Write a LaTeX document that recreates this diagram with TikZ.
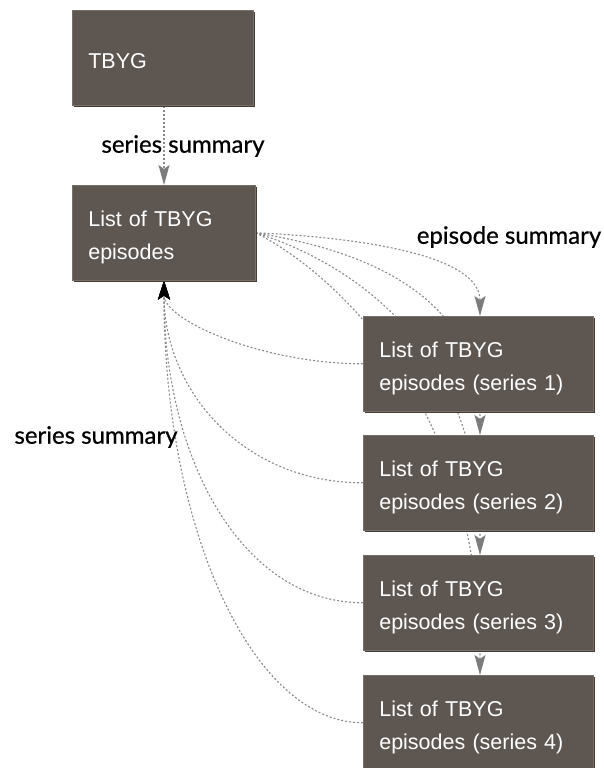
\documentclass[tikz,border=0pt]{standalone}
\usepackage{fontspec}
\setmainfont{Liberation Sans}
\newfontfamily\labelfont[FakeBold=0.6]{Lato}
\usetikzlibrary{arrows.meta,backgrounds}
\definecolor{boxfill}{HTML}{5E5650}
\definecolor{boxdark}{HTML}{463C32}
\definecolor{edgegray}{HTML}{8A8A8A}
\definecolor{tipgray}{HTML}{7C7C7C}
\newcommand\boxtext[1]{\raisebox{-4pt}[\height][\depth]{\begin{tabular}{@{}l@{}}#1\end{tabular}}}
\tikzset{
  boxnode/.style={anchor=north west, fill=boxfill, text=white,
    font=\fontsize{21.5}{33}\selectfont, align=left, inner xsep=16pt, inner ysep=0pt,
    preaction={fill=boxdark, transform canvas={shift={(2pt,-2pt)}}},
    draw=boxfill!85!white, line width=0.6pt},
  epiedge/.style={draw=edgegray, line width=1.1pt, dash pattern=on 2pt off 2pt,
    -{Stealth[length=20pt,width=11pt,inset=4pt,fill=tipgray,color=tipgray]}},
  seredge/.style={draw=edgegray, line width=1.1pt, dash pattern=on 2pt off 2pt,
    -{Stealth[length=19pt,width=12pt,inset=4pt,fill=black,color=black]}},
  edgelabel/.style={font=\labelfont\fontsize{24}{28}\selectfont, text=black, inner sep=0pt}
}
\begin{document}
\begin{tikzpicture}[x=1pt,y=-1pt]
\useasboundingbox (0,0) rectangle (604,768);
\node[boxnode, minimum width=181pt, minimum height=95pt, text width=149pt] (tbyg) at (72,10) {\boxtext{TBYG}};
\node[boxnode, minimum width=183pt, minimum height=95pt, text width=151pt] (list) at (72,185) {\boxtext{List of TBYG\\episodes}};
\node[boxnode, minimum width=230pt, minimum height=95pt, text width=198pt] (s1) at (363,316) {\boxtext{List of TBYG\\episodes (series 1)}};
\node[boxnode, minimum width=230pt, minimum height=95pt, text width=198pt] (s2) at (363,435) {\boxtext{List of TBYG\\episodes (series 2)}};
\node[boxnode, minimum width=230pt, minimum height=95pt, text width=198pt] (s3) at (363,555) {\boxtext{List of TBYG\\episodes (series 3)}};
\node[boxnode, minimum width=230pt, minimum height=95pt, text width=198pt] (s4) at (363,675) {\boxtext{List of TBYG\\episodes (series 4)}};
\node[edgelabel] (lab1) at (183,146) {series summary};
\node[edgelabel] (lab2) at (509,237) {episode summary};
\node[edgelabel] (lab3) at (96,437) {series summary};
\begin{pgfonlayer}{background}
\draw[epiedge] ([xshift=92pt]tbyg.south west) -- ([xshift=92pt]list.north west);
\draw[epiedge] (list.east) .. controls +(110,5) and +(0,-60) .. ([xshift=117pt]s1.north west);
\draw[epiedge] (list.east) .. controls +(90,15) and +(0,-150) .. ([xshift=117pt]s2.north west);
\draw[epiedge] (list.east) .. controls +(80,25) and +(0,-220) .. ([xshift=117pt]s3.north west);
\draw[epiedge] (list.east) .. controls +(70,35) and +(0,-280) .. ([xshift=117pt]s4.north west);
\draw[seredge] (s1.west) .. controls +(-100,0) and +(0,40) .. ([xshift=92pt]list.south west);
\draw[seredge] (s2.west) .. controls +(-120,0) and +(0,110) .. ([xshift=92pt]list.south west);
\draw[seredge] (s3.west) .. controls +(-120,0) and +(0,180) .. ([xshift=92pt]list.south west);
\draw[seredge] (s4.west) .. controls +(-110,0) and +(0,250) .. ([xshift=92pt]list.south west);
\end{pgfonlayer}
\end{tikzpicture}
\end{document}
